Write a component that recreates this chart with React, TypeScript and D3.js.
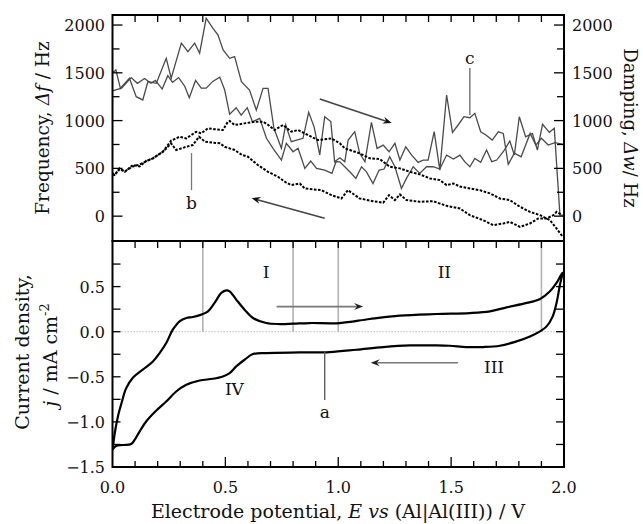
import React from "react";
import * as d3 from "d3";

// ---- data ----
// Top panel: frequency (solid) and damping (dotted) traces, [E / V, value / Hz]
const freqA: [number, number][] = [
  [0.0,1310],[0.04,1340],[0.083,1450],[0.11,1390],[0.142,1440],[0.17,1390],[0.19,1420],[0.22,1330],[0.245,1470],[0.266,1400],[0.293,1450],[0.32,1360],[0.34,1240],[0.368,1420],[0.393,1340],[0.415,1340],[0.444,1410],[0.475,1455],[0.497,1320],[0.519,1066],[0.548,1135],[0.57,1058],[0.597,1135],[0.62,988],[0.652,1024],[0.682,815],[0.711,710],[0.748,587],[0.77,762],[0.8,674],[0.822,710],[0.852,500],[0.878,577],[0.904,500],[0.94,482],[0.972,447],[0.99,570],
  [1.007,569],[1.051,464],[1.078,395],[1.103,517],[1.125,464],[1.154,342],[1.181,482],[1.203,493],[1.228,622],[1.251,517],[1.28,290],[1.302,395],[1.332,517],[1.361,447],[1.391,517],[1.42,517],[1.45,493],[1.48,639],[1.51,597],[1.539,639],[1.56,570],[1.583,517],[1.605,605],[1.631,563],[1.657,692],[1.68,570],[1.702,587],[1.731,674],[1.76,786],[1.78,640],[1.802,1040],[1.83,831],[1.86,866],[1.882,692],[1.905,961],[1.935,877],[1.957,919],[1.982,10],[1.997,10]
];
const freqB: [number, number][] = [
  [0.0,1500],[0.015,1530],[0.035,1338],[0.075,1443],[0.105,1250],[0.134,1216],[0.157,1408],[0.194,1390],[0.238,1652],[0.26,1443],[0.305,1810],[0.334,1722],[0.364,1810],[0.386,1705],[0.415,2072],[0.445,1966],[0.467,1897],[0.49,1740],[0.519,1652],[0.541,1670],[0.571,1408],[0.607,1320],[0.637,1110],[0.667,1338],[0.689,1338],[0.715,920],[0.748,710],[0.767,955],[0.792,780],[0.844,815],[0.869,1087],[0.893,935],[0.918,640],[0.94,1040],[0.967,990],[0.984,570],
  [1.007,611],[1.029,569],[1.044,797],[1.073,884],[1.095,657],[1.118,569],[1.147,982],[1.172,709],[1.199,744],[1.225,674],[1.251,762],[1.273,587],[1.299,726],[1.325,639],[1.354,562],[1.376,587],[1.398,587],[1.425,884],[1.45,482],[1.48,1268],[1.506,877],[1.531,954],[1.557,1041],[1.583,1030],[1.605,1076],[1.631,883],[1.654,849],[1.682,796],[1.709,883],[1.731,866],[1.753,542],[1.78,660],[1.81,622],[1.85,866],[1.875,744],[1.9,815],[1.93,744],[1.96,770],[1.997,750]
];
const dampA: [number, number][] = [
  [0.0,440],[0.009,430],[0.031,500],[0.055,464],[0.09,535],[0.12,520],[0.15,580],[0.179,605],[0.223,674],[0.26,790],[0.297,831],[0.327,814],[0.371,883],[0.393,866],[0.423,919],[0.45,910],[0.489,901],[0.511,988],[0.519,996],[0.541,954],[0.585,971],[0.63,988],[0.667,988],[0.69,954],[0.718,901],[0.755,954],[0.792,884],[0.822,901],[0.866,849],[0.91,796],[0.97,814],[1.007,762],[1.029,709],[1.051,692],[1.095,657],[1.14,605],[1.184,597],[1.228,517],[1.273,500],[1.317,464],[1.361,437],[1.406,395],[1.45,377],[1.48,325],[1.51,342],[1.539,310],[1.583,290],[1.627,272],[1.672,238],[1.716,185],[1.76,168],[1.805,98],[1.849,45],[1.894,10],[1.938,-42],[1.967,-129],[1.995,-217]
];
const dampB: [number, number][] = [
  [0.0,450],[0.009,430],[0.031,490],[0.055,470],[0.09,520],[0.12,540],[0.15,575],[0.179,605],[0.223,674],[0.26,760],[0.282,692],[0.327,726],[0.356,744],[0.383,831],[0.41,779],[0.475,762],[0.497,726],[0.541,692],[0.575,639],[0.6,622],[0.644,535],[0.689,464],[0.733,412],[0.77,350],[0.792,325],[0.83,342],[0.851,290],[0.89,280],[0.925,272],[0.97,220],[1.014,185],[1.043,272],[1.095,185],[1.154,157],[1.199,140],[1.225,220],[1.251,168],[1.273,227],[1.302,168],[1.361,150],[1.42,157],[1.48,108],[1.539,80],[1.583,10],[1.642,-42],[1.686,-94],[1.731,-77],[1.76,-60],[1.805,-112],[1.849,-77],[1.886,-24],[1.923,-24],[1.953,10],[1.967,45],[1.99,15]
];
// Bottom panel: cyclic voltammogram, [E / V, j / mA cm-2]
const cvForward: [number, number][] = [
  [0.002,-1.28],[0.009,-1.14],[0.024,-0.94],[0.04,-0.79],[0.06,-0.63],[0.09,-0.51],[0.134,-0.42],[0.179,-0.33],[0.208,-0.24],[0.238,-0.126],[0.267,0.022],[0.297,0.115],[0.327,0.152],[0.356,0.163],[0.393,0.189],[0.423,0.226],[0.452,0.319],[0.482,0.43],[0.504,0.459],[0.519,0.448],[0.548,0.356],[0.585,0.244],[0.622,0.152],[0.681,0.096],[0.74,0.085],[0.8,0.089],[0.874,0.096],[1.007,0.096],[1.14,0.141],[1.273,0.178],[1.435,0.196],[1.583,0.207],[1.672,0.226],[1.746,0.27],[1.835,0.319],[1.894,0.363],[1.938,0.448],[1.967,0.54],[1.993,0.652]
];
const cvReverse: [number, number][] = [
  [1.993,0.652],[1.982,0.52],[1.967,0.319],[1.95,0.17],[1.923,0.059],[1.894,0.004],[1.849,-0.052],[1.79,-0.107],[1.716,-0.156],[1.642,-0.17],[1.568,-0.17],[1.494,-0.156],[1.435,-0.152],[1.317,-0.152],[1.199,-0.17],[1.08,-0.2],[0.962,-0.226],[0.829,-0.23],[0.681,-0.237],[0.622,-0.248],[0.585,-0.311],[0.548,-0.385],[0.519,-0.459],[0.489,-0.496],[0.445,-0.522],[0.386,-0.541],[0.327,-0.589],[0.282,-0.663],[0.238,-0.774],[0.194,-0.874],[0.149,-0.996],[0.12,-1.107],[0.098,-1.2],[0.083,-1.244],[0.046,-1.256],[0.016,-1.267],[0.001,-1.304]
];
const regionLines = [0.4, 0.8, 1.0, 1.9];
const xTickLabels = [0, 0.5, 1.0, 1.5, 2.0];
const topTickLabels = [0, 500, 1000, 1500, 2000];
const botTickLabels = [-1.5, -1.0, -0.5, 0.0, 0.5];
// annotations: [E, value] endpoints
const topArrowFwd = [[0.918, 1226], [1.237, 975]];
const topArrowRev = [[0.94, -21], [0.616, 189]];
const botArrowFwd = [[0.727, 0.278], [1.11, 0.278]];
const botArrowRev = [[1.53, -0.344], [1.144, -0.344]];
const leaderB = [[0.35, 660], [0.35, 272]];
const leaderC = [[1.583, 1551], [1.583, 1058]];
const leaderA = [[0.94, -0.22], [0.94, -0.756]];
const romanLabels: [string, number, number][] = [["I", 0.68, 0.66], ["II", 1.47, 0.66], ["III", 1.69, -0.39], ["IV", 0.54, -0.64]];

const W = 643, H = 524;
const L = 112.5, R = 564;
const x = d3.scaleLinear().domain([0, 2]).range([L, R]);
const yT = d3.scaleLinear().domain([-260, 2105]).range([241, 15]);
const yB = d3.scaleLinear().domain([-1.5, 1.0]).range([467, 241.5]);
const FONT = "DejaVu Serif";

function head(x1: number, y1: number, x2: number, y2: number, len = 9, w = 3.5) {
  const a = Math.atan2(y2 - y1, x2 - x1);
  const bx = x2 - len * Math.cos(a), by = y2 - len * Math.sin(a);
  const nx = -Math.sin(a) * w, ny = Math.cos(a) * w;
  return `${x2},${y2} ${bx + nx},${by + ny} ${bx + 0.35 * len * Math.cos(a)},${by + 0.35 * len * Math.sin(a)} ${bx - nx},${by - ny}`;
}

function Arrow({ pts, ys, color, headColor }: { pts: number[][]; ys: d3.ScaleLinear<number, number>; color: string; headColor: string }) {
  const x1 = x(pts[0][0]), y1 = ys(pts[0][1]), x2 = x(pts[1][0]), y2 = ys(pts[1][1]);
  const a = Math.atan2(y2 - y1, x2 - x1);
  return (
    <g>
      <line x1={x1} y1={y1} x2={x2 - 5 * Math.cos(a)} y2={y2 - 5 * Math.sin(a)} stroke={color} strokeWidth={1.6} />
      <polygon points={head(x1, y1, x2, y2)} fill={headColor} />
    </g>
  );
}

export default function App() {
  const lineT = d3.line<[number, number]>().x(d => x(d[0])).y(d => yT(d[1]));
  const cvLine = d3.line<[number, number]>().x(d => x(d[0])).y(d => yB(d[1])).curve(d3.curveCatmullRom.alpha(0.5));
  const cvPath = cvLine(cvForward.concat(cvReverse.slice(1)));
  const xt = d3.range(1, 20).map(i => i / 10);
  const topMinor = d3.range(0, 2001, 250);
  const botMinor = d3.range(-1.25, 0.76, 0.25);
  const textStyle = { fontFamily: FONT, fontSize: 16, fill: "#111" } as const;
  const titleStyle = { ...textStyle, fontSize: 18.5 };

  return (
    <svg width={W} height={H} style={{ position: "absolute", left: 0, top: 0, background: "#fff" }}>
      <rect width={W} height={H} fill="#fff" />
      {/* bottom panel guides */}
      <line x1={L} x2={R} y1={yB(0)} y2={yB(0)} stroke="#aaa" strokeWidth={1} strokeDasharray="1.2,1.8" />
      {regionLines.map(e => (
        <line key={e} x1={x(e)} x2={x(e)} y1={yB(1.0)} y2={yB(0)} stroke="#b3b3b3" strokeWidth={1.6} />
      ))}

      {/* top panel data */}
      <path d={lineT(freqA) || ""} fill="none" stroke="#4a4a4a" strokeWidth={1.3} />
      <path d={lineT(freqB) || ""} fill="none" stroke="#4a4a4a" strokeWidth={1.3} />
      <path d={lineT(dampA) || ""} fill="none" stroke="#000" strokeWidth={2} strokeDasharray="2.6,1.5" />
      <path d={lineT(dampB) || ""} fill="none" stroke="#000" strokeWidth={2} strokeDasharray="2.6,1.5" />

      {/* bottom panel data */}
      <path d={cvPath || ""} fill="none" stroke="#000" strokeWidth={2.2} strokeLinejoin="round" />

      {/* leaders */}
      <line x1={x(leaderB[0][0])} x2={x(leaderB[1][0])} y1={yT(leaderB[0][1])} y2={yT(leaderB[1][1])} stroke="#777" strokeWidth={1.3} />
      <line x1={x(leaderC[0][0])} x2={x(leaderC[1][0])} y1={yT(leaderC[0][1])} y2={yT(leaderC[1][1])} stroke="#666" strokeWidth={1.3} />
      <line x1={x(leaderA[0][0])} x2={x(leaderA[1][0])} y1={yB(leaderA[0][1])} y2={yB(leaderA[1][1])} stroke="#555" strokeWidth={1.3} />

      {/* arrows */}
      <Arrow pts={topArrowFwd} ys={yT} color="#444" headColor="#111" />
      <Arrow pts={topArrowRev} ys={yT} color="#444" headColor="#111" />
      <Arrow pts={botArrowFwd} ys={yB} color="#777" headColor="#222" />
      <Arrow pts={botArrowRev} ys={yB} color="#777" headColor="#222" />

      {/* labels in plot */}
      <text x={x(leaderB[1][0])} y={yT(leaderB[1][1]) + 19} textAnchor="middle" style={{ ...textStyle, fontSize: 17 }}>b</text>
      <text x={x(leaderC[0][0])} y={yT(leaderC[0][1]) - 4} textAnchor="middle" style={{ ...textStyle, fontSize: 17 }}>c</text>
      <text x={x(leaderA[1][0])} y={yB(leaderA[1][1]) + 18} textAnchor="middle" style={{ ...textStyle, fontSize: 17 }}>a</text>
      {romanLabels.map(([t, e, j]) => (
        <text key={t} x={x(e)} y={yB(j) + 6} textAnchor="middle" style={{ ...textStyle, fontSize: 17 }}>{t}</text>
      ))}

      {/* frames */}
      <rect x={L} y={15} width={R - L} height={241 - 15} fill="none" stroke="#000" strokeWidth={2} />
      <rect x={L} y={241} width={R - L} height={467 - 241} fill="none" stroke="#000" strokeWidth={2} />

      {/* x ticks */}
      {xt.map(v => {
        const major = Math.abs(v * 2 - Math.round(v * 2)) < 1e-6;
        return (
          <g key={v}>
            <line x1={x(v)} x2={x(v)} y1={15} y2={22} stroke="#000" strokeWidth={1.3} />
            <line x1={x(v)} x2={x(v)} y1={241} y2={248} stroke="#000" strokeWidth={1.3} />
            <line x1={x(v)} x2={x(v)} y1={467} y2={major ? 457 : 461} stroke="#000" strokeWidth={1.3} />
          </g>
        );
      })}
      {/* top y ticks */}
      {topMinor.map(v => {
        const len = v % 500 === 0 ? 10 : 7;
        return (
          <g key={v}>
            <line x1={L} x2={L + len} y1={yT(v)} y2={yT(v)} stroke="#000" strokeWidth={1.3} />
            <line x1={R} x2={R - len} y1={yT(v)} y2={yT(v)} stroke="#000" strokeWidth={1.3} />
          </g>
        );
      })}
      {/* bottom y ticks */}
      {botMinor.map(v => (
        <g key={v}>
          <line x1={L} x2={L + 8} y1={yB(v)} y2={yB(v)} stroke="#000" strokeWidth={1.3} />
          <line x1={R} x2={R - 8} y1={yB(v)} y2={yB(v)} stroke="#000" strokeWidth={1.3} />
        </g>
      ))}

      {/* tick labels */}
      {xTickLabels.map(v => (
        <text key={v} x={x(v)} y={493} textAnchor="middle" style={textStyle}>{v.toFixed(1)}</text>
      ))}
      {topTickLabels.map(v => (
        <g key={v}>
          <text x={105} y={yT(v) + 6} textAnchor="end" style={textStyle}>{v}</text>
          <text x={572} y={yT(v) + 6} textAnchor="start" style={textStyle}>{v}</text>
        </g>
      ))}
      {botTickLabels.map(v => (
        <text key={v} x={105} y={yB(v) + 6} textAnchor="end" style={textStyle}>{v.toFixed(1).replace("-", "\u2212")}</text>
      ))}

      {/* axis titles */}
      <text transform={`translate(49,${(15 + 241) / 2}) rotate(-90)`} textAnchor="middle" style={titleStyle}>
        Frequency, <tspan fontStyle="italic">Δf</tspan> / Hz
      </text>
      <text transform={`translate(624,${(15 + 241) / 2}) rotate(90)`} textAnchor="middle" style={{ ...titleStyle, fontSize: 18 }}>
        Damping, <tspan fontStyle="italic">Δw</tspan>/ Hz
      </text>
      <text transform={`translate(29,352) rotate(-90)`} textAnchor="middle" style={{ ...titleStyle, fontSize: 19 }}>
        Current density,
      </text>
      <text transform={`translate(56.5,355) rotate(-90)`} textAnchor="middle" style={{ ...titleStyle, fontSize: 19 }}>
        <tspan fontStyle="italic">j</tspan> / mA cm<tspan dy={-8} fontSize={13}>-2</tspan>
      </text>
      <text x={338} y={518} textAnchor="middle" style={{ ...titleStyle, fontSize: 19 }}>
        Electrode potential, <tspan fontStyle="italic">E</tspan> <tspan fontStyle="italic">vs</tspan> (Al|Al(III)) / V
      </text>
    </svg>
  );
}
